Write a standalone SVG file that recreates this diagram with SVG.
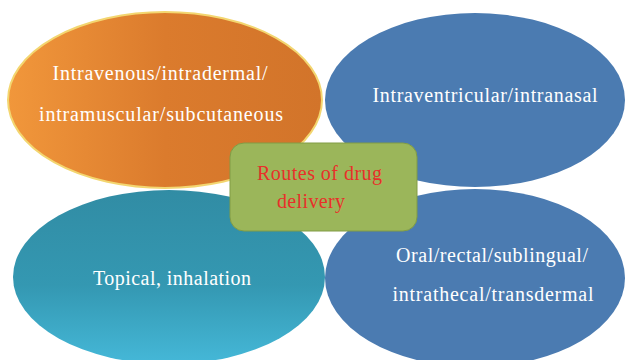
<svg xmlns="http://www.w3.org/2000/svg" width="626" height="360" viewBox="0 0 626 360">
<defs>
<linearGradient id="gOrange" x1="0" y1="0" x2="1" y2="0">
<stop offset="0" stop-color="#f1973b"/>
<stop offset="0.5" stop-color="#db7b2d"/>
<stop offset="1" stop-color="#d2742a"/>
</linearGradient>
<linearGradient id="gTeal" x1="0" y1="0" x2="0" y2="1">
<stop offset="0" stop-color="#318ca4"/>
<stop offset="0.55" stop-color="#3498b2"/>
<stop offset="1" stop-color="#45b8d8"/>
</linearGradient>
<style>
.lbl{font-family:"Liberation Serif","Times New Roman",serif;font-size:20px;fill:#ffffff;text-anchor:middle}
.ctr{font-family:"Liberation Serif","Times New Roman",serif;font-size:20px;fill:#e8302a}
.blue{fill:#4b7bb1}
</style>
</defs>
<rect width="626" height="360" fill="#ffffff"/>
<g id="node-topleft">
<ellipse cx="165" cy="100" rx="157" ry="88" fill="url(#gOrange)" stroke="#f3d670" stroke-width="2"/>
<text class="lbl" x="160" y="80" textLength="215" lengthAdjust="spacing">Intravenous/intradermal/</text>
<text class="lbl" x="161" y="121" textLength="244" lengthAdjust="spacing">intramuscular/subcutaneous</text>
</g>
<g id="node-topright">
<ellipse class="blue" cx="475" cy="100" rx="150" ry="87"/>
<text class="lbl" x="485" y="102" textLength="225" lengthAdjust="spacing">Intraventricular/intranasal</text>
</g>
<g id="node-bottomleft">
<ellipse cx="169" cy="277" rx="156" ry="87" fill="url(#gTeal)"/>
<text class="lbl" x="172" y="285" textLength="158" lengthAdjust="spacing">Topical, inhalation</text>
</g>
<g id="node-bottomright">
<ellipse class="blue" cx="475" cy="278" rx="150" ry="89"/>
<text class="lbl" x="492" y="262" textLength="192" lengthAdjust="spacing">Oral/rectal/sublingual/</text>
<text class="lbl" x="493" y="301" textLength="201" lengthAdjust="spacing">intrathecal/transdermal</text>
</g>
<g id="connectors"></g>
<g id="node-center">
<rect x="230" y="143" width="187" height="88" rx="14" ry="14" fill="#9bb65a" stroke="#819c45" stroke-width="1"/>
<text class="ctr" x="257" y="180" textLength="125" lengthAdjust="spacing">Routes of drug</text>
<text class="ctr" x="277" y="208" textLength="68" lengthAdjust="spacing">delivery</text>
</g>
</svg>
